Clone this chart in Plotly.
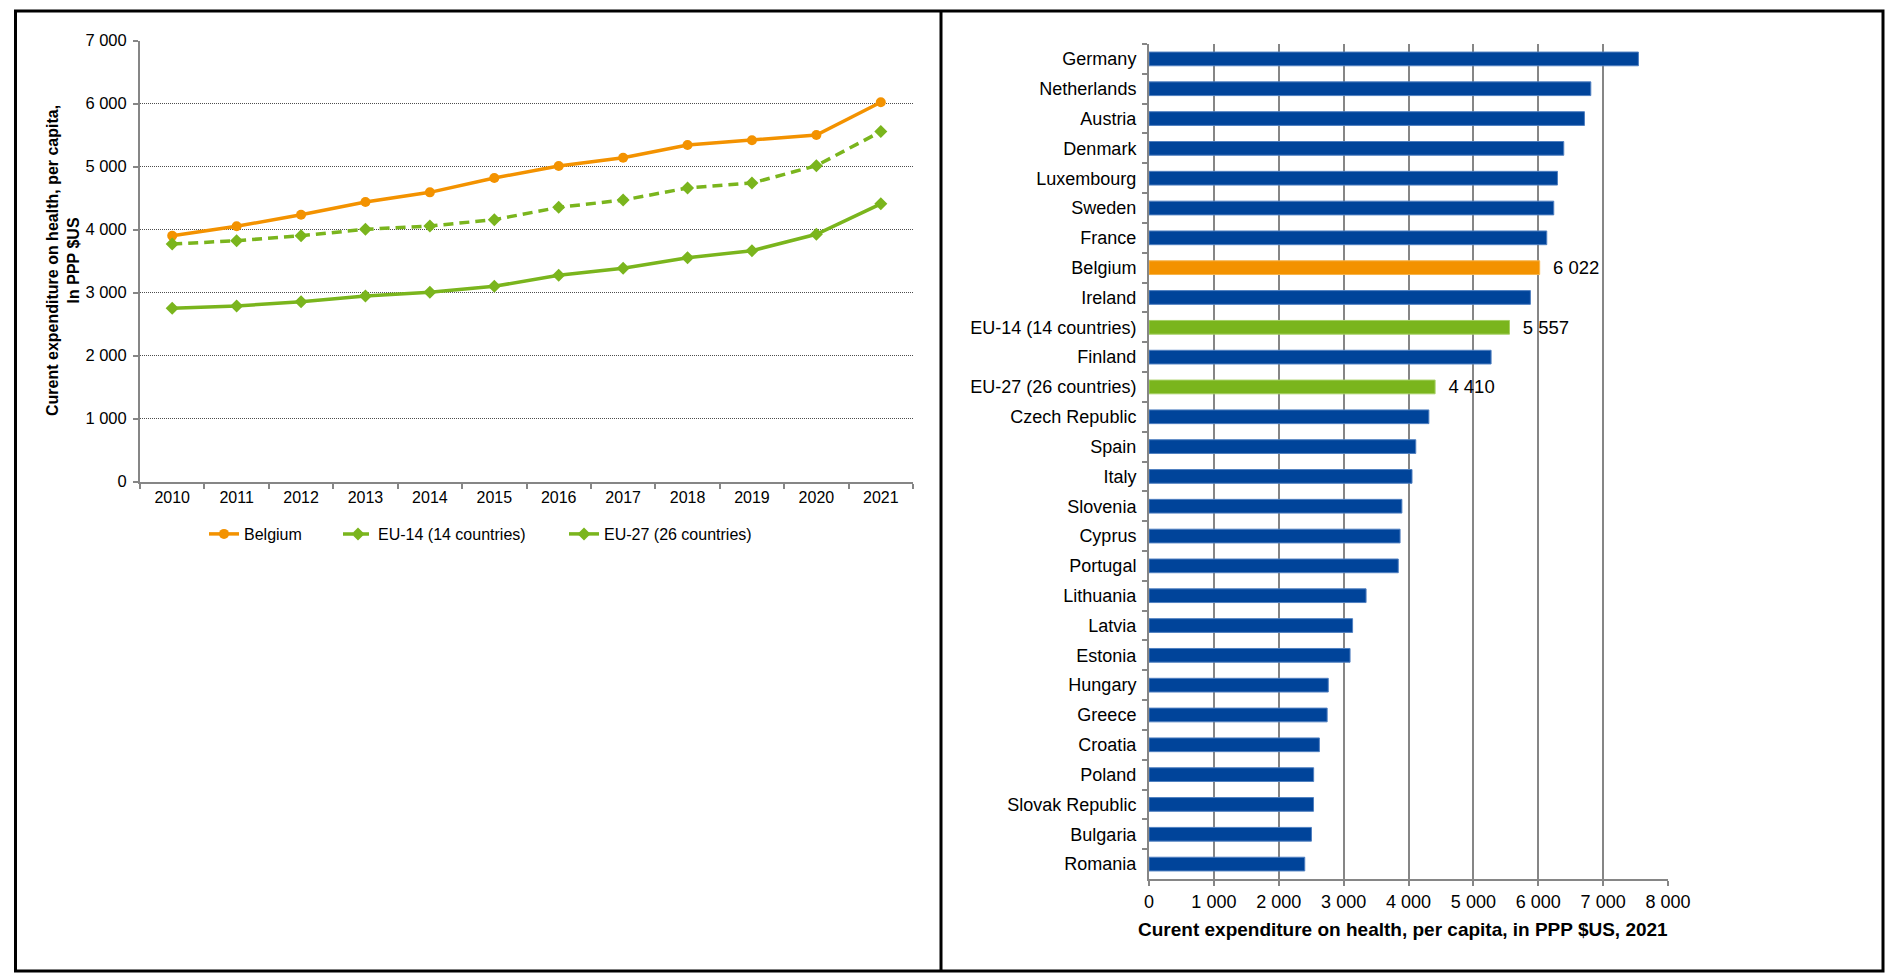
import plotly.graph_objects as go

# ---- data -----------------------------------------------------------------
years = ["2010", "2011", "2012", "2013", "2014", "2015",
         "2016", "2017", "2018", "2019", "2020", "2021"]
belgium = [3905, 4054, 4238, 4440, 4593, 4821, 5011, 5143, 5344, 5419, 5503, 6022]
eu14 = [3773, 3825, 3905, 4006, 4059, 4159, 4355, 4471, 4662, 4741, 5016, 5557]
eu27 = [2752, 2789, 2857, 2947, 3006, 3101, 3276, 3387, 3556, 3667, 3927, 4410]

countries = ["Germany", "Netherlands", "Austria", "Denmark", "Luxembourg", "Sweden",
             "France", "Belgium", "Ireland", "EU-14 (14 countries)", "Finland",
             "EU-27 (26 countries)", "Czech Republic", "Spain", "Italy", "Slovenia",
             "Cyprus", "Portugal", "Lithuania", "Latvia", "Estonia", "Hungary",
             "Greece", "Croatia", "Poland", "Slovak Republic", "Bulgaria", "Romania"]
spend_2021 = [7544, 6810, 6712, 6393, 6296, 6239, 6131, 6022, 5879, 5557, 5273,
              4410, 4314, 4112, 4054, 3898, 3870, 3842, 3346, 3138, 3099, 2763,
              2746, 2626, 2538, 2536, 2504, 2401]

# ---- styling --------------------------------------------------------------
W, H = 1888, 977
ORANGE = "#F39200"
GREEN = "#7AB51D"
BLUE = "#00449A"
AXIS = "#868686"
FONT = "Liberation Sans, Arial, sans-serif"


def fx(px):
    return px / W


def fy(py):
    return 1 - py / H


bar_colors = []
bar_edges = []
bar_text = []
for name in countries:
    if name == "Belgium":
        bar_colors.append(ORANGE)
        bar_edges.append("#F7B44A")
        bar_text.append("\u00a0\u00a0%{x:,d}")
    elif name.startswith("EU-"):
        bar_colors.append(GREEN)
        bar_edges.append("#A6D063")
        bar_text.append("\u00a0\u00a0%{x:,d}")
    else:
        bar_colors.append(BLUE)
        bar_edges.append("#4F7FC0")
        bar_text.append("")

fig = go.Figure()

# ---- left panel: time series ---------------------------------------------
fig.add_trace(go.Scatter(
    x=years, y=belgium, name="Belgium", mode="lines+markers",
    line=dict(color=ORANGE, width=3.5),
    marker=dict(symbol="circle", size=10, color=ORANGE),
    xaxis="x", yaxis="y", legend="legend",
))
fig.add_trace(go.Scatter(
    x=years, y=eu14, name="EU-14 (14 countries)", mode="lines+markers",
    line=dict(color=GREEN, width=3.5, dash="10px,6px"),
    marker=dict(symbol="diamond", size=10, color=GREEN),
    xaxis="x", yaxis="y", legend="legend2",
))
fig.add_trace(go.Scatter(
    x=years, y=eu27, name="EU-27 (26 countries)", mode="lines+markers",
    line=dict(color=GREEN, width=3.5),
    marker=dict(symbol="diamond", size=10, color=GREEN),
    xaxis="x", yaxis="y", legend="legend3",
))

# ---- right panel: 2021 ranking -------------------------------------------
fig.add_trace(go.Bar(
    x=spend_2021, y=countries, orientation="h",
    marker=dict(color=bar_colors, line=dict(color=bar_edges, width=1)),
    texttemplate=bar_text, textposition="outside", constraintext="none",
    textfont=dict(size=18.5, color="#000"), cliponaxis=False,
    showlegend=False, hoverinfo="x+y",
    xaxis="x2", yaxis="y2",
))

legend_common = dict(orientation="h", yanchor="middle", xanchor="left",
                     font=dict(size=16, color="#000"),
                     bgcolor="rgba(0,0,0,0)", borderwidth=0)

fig.update_layout(
    width=W, height=H, autosize=False,
    margin=dict(l=0, r=0, t=0, b=0, autoexpand=False),
    paper_bgcolor="white", plot_bgcolor="white",
    separators=". ",
    font=dict(family=FONT, color="#000"),
    bargap=0.54,
    legend=dict(x=fx(204), y=fy(534), **legend_common),
    legend2=dict(x=fx(338), y=fy(534), **legend_common),
    legend3=dict(x=fx(564), y=fy(534), **legend_common),
    xaxis=dict(
        domain=[fx(140), fx(913)], anchor="y", type="category",
        range=[-0.5, 11.5], showline=True, linecolor=AXIS, linewidth=2,
        ticks="outside", tickson="boundaries", ticklen=5, tickcolor=AXIS,
        tickwidth=1.5, tickfont=dict(size=16), showgrid=False, zeroline=False,
    ),
    yaxis=dict(
        domain=[fy(481.7), fy(40.7)], anchor="x", range=[0, 7000], dtick=1000,
        tickformat=",d", showline=True, linecolor=AXIS, linewidth=2,
        ticks="outside", ticklen=5, tickcolor=AXIS, tickwidth=1.5,
        showgrid=True, gridcolor="#4D4D4D", gridwidth=1, griddash="1px,1px",
        zeroline=False, tickfont=dict(size=16.5), ticklabelstandoff=3,
    ),
    xaxis2=dict(
        domain=[fx(1149), fx(1668)], anchor="y2", range=[0, 8000], dtick=1000,
        tickformat=",d", showgrid=True, gridcolor=AXIS, gridwidth=1.5,
        showline=True, linecolor=AXIS, linewidth=2, ticks="outside",
        ticklen=5, tickcolor=AXIS, tickwidth=1.5, zeroline=False,
        tickfont=dict(size=18),
    ),
    yaxis2=dict(
        domain=[fy(879), fy(44)], anchor="x2", type="category",
        categoryorder="array", categoryarray=countries, range=[27.5, -0.5],
        showline=True, linecolor=AXIS, linewidth=2, ticks="outside",
        tickson="boundaries", ticklen=5, tickcolor=AXIS, tickwidth=1.5,
        showgrid=False, zeroline=False, tickfont=dict(size=18),
        ticklabelstandoff=7,
    ),
    annotations=[
        dict(text="<b>Curent expenditure on health, per capita,<br>In PPP $US</b>",
             textangle=-90, x=fx(63), y=fy(261), xref="paper", yref="paper",
             xanchor="center", yanchor="middle", showarrow=False,
             font=dict(size=16, color="#000"), align="center"),
        dict(text="<b>Curent expenditure on health, per capita, in PPP $US, 2021</b>",
             x=fx(1403), y=fy(929.5), xref="paper", yref="paper",
             xanchor="center", yanchor="middle", showarrow=False,
             font=dict(size=19, color="#000")),
    ],
    shapes=[
        dict(type="rect", xref="paper", yref="paper",
             x0=fx(15.5), x1=fx(1883), y0=fy(971), y1=fy(11),
             line=dict(color="#000", width=3), fillcolor="rgba(0,0,0,0)"),
        dict(type="line", xref="paper", yref="paper",
             x0=fx(941), x1=fx(941), y0=fy(971), y1=fy(11),
             line=dict(color="#000", width=3)),
    ],
)

fig.write_html("out.html")
